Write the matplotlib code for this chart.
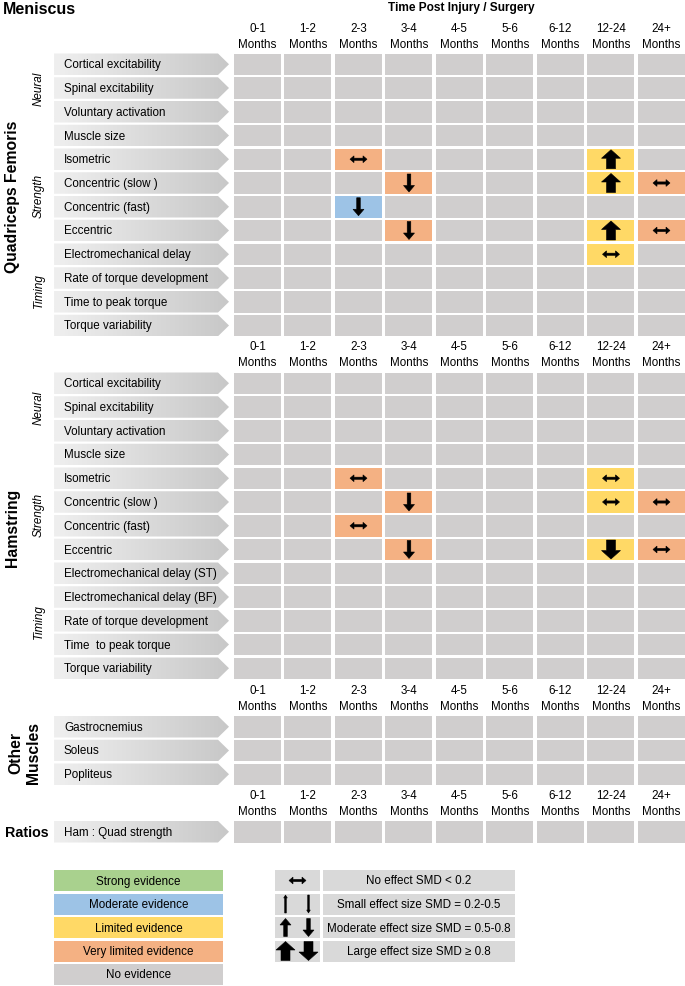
import matplotlib
matplotlib.use("Agg")
import matplotlib.pyplot as plt
import numpy as np
from matplotlib.patches import Rectangle, Polygon
from matplotlib.colors import LinearSegmentedColormap

plt.rcParams['font.family'] = ['Liberation Sans', 'DejaVu Sans']

# ---- data ----
columns = ["0-1", "1-2", "2-3", "3-4", "4-5", "5-6", "6-12", "12-24", "24+"]

quad_rows = ["Cortical excitability", "Spinal excitability", "Voluntary activation",
             "Muscle size", "Isometric", "Concentric (slow )", "Concentric (fast)",
             "Eccentric", "Electromechanical delay", "Rate of torque development",
             "Time to peak torque", "Torque variability"]
quad_groups = [("Neural", 0, 2), ("Strength", 4, 7), ("Timing", 8, 11)]
quad_findings = [
    ("Isometric", "2-3", "very_limited", "none"),
    ("Isometric", "12-24", "limited", "large_up"),
    ("Concentric (slow )", "3-4", "very_limited", "moderate_down"),
    ("Concentric (slow )", "12-24", "limited", "large_up"),
    ("Concentric (slow )", "24+", "very_limited", "none"),
    ("Concentric (fast)", "2-3", "moderate", "moderate_down"),
    ("Eccentric", "3-4", "very_limited", "moderate_down"),
    ("Eccentric", "12-24", "limited", "large_up"),
    ("Eccentric", "24+", "very_limited", "none"),
    ("Electromechanical delay", "12-24", "limited", "none"),
]

ham_rows = ["Cortical excitability", "Spinal excitability", "Voluntary activation",
            "Muscle size", "Isometric", "Concentric (slow )", "Concentric (fast)",
            "Eccentric", "Electromechanical delay (ST)", "Electromechanical delay (BF)",
            "Rate of torque development", "Time  to peak torque", "Torque variability"]
ham_groups = [("Neural", 0, 2), ("Strength", 4, 7), ("Timing", 8, 12)]
ham_findings = [
    ("Isometric", "2-3", "very_limited", "none"),
    ("Isometric", "12-24", "limited", "none"),
    ("Concentric (slow )", "3-4", "very_limited", "moderate_down"),
    ("Concentric (slow )", "12-24", "limited", "none"),
    ("Concentric (slow )", "24+", "very_limited", "none"),
    ("Concentric (fast)", "2-3", "very_limited", "none"),
    ("Eccentric", "3-4", "very_limited", "moderate_down"),
    ("Eccentric", "12-24", "limited", "large_down"),
    ("Eccentric", "24+", "very_limited", "none"),
]

other_rows = ["Gastrocnemius", "Soleus", "Popliteus"]
ratio_rows = ["Ham : Quad strength"]

evidence_labels = ["Strong evidence", "Moderate evidence", "Limited evidence",
                   "Very limited evidence", "No evidence"]
evidence_keys = ["strong", "moderate", "limited", "very_limited", "none"]
effect_labels = ["No effect SMD < 0.2", "Small effect size SMD = 0.2-0.5",
                 "Moderate effect size SMD = 0.5-0.8", "Large effect size SMD \u2265 0.8"]

# ---- styles ----
evidence_colors = {"strong": "#a9d18e", "moderate": "#9dc3e6", "limited": "#ffd966",
                   "very_limited": "#f4b183", "none": "#d0cece"}
legend_grey = "#d9d9d9"

col_x0, col_pitch, cell_w = 234, 50.5, 47
row_pitch, cell_h = 23.75, 21.5
lab_x0, lab_x1, lab_tip = 54, 218, 229
fs = 8.4

fig = plt.figure(figsize=(6.85, 9.87), dpi=100)
ax = fig.add_axes([0, 0, 1, 1])
ax.set_xlim(0, 685)
ax.set_ylim(987, 0)
ax.axis('off')

grad_cmap = LinearSegmentedColormap.from_list("lab", ["#efefef", "#c8c8c8"])
grad = np.linspace(0, 1, 64).reshape(1, -1)


def arrow_shape(kind, cx, cy):
    if kind == "none":
        L, hl, hh, sh = 8.5, 4.0, 3.4, 1.1
        pts = [(-L, 0), (-L + hl, -hh), (-L + hl, -sh), (L - hl, -sh), (L - hl, -hh),
               (L, 0), (L - hl, hh), (L - hl, sh), (-L + hl, sh), (-L + hl, hh)]
    else:
        size, direction = kind.split("_")
        H, hl, hw, sw = {"small": (9, 3, 1.8, 0.8),
                         "moderate": (9, 6.5, 5.5, 1.8),
                         "large": (9.5, 8.5, 9.5, 4.5)}[size]
        pts = [(0, -H), (hw, -H + hl), (sw, -H + hl), (sw, H), (-sw, H),
               (-sw, -H + hl), (-hw, -H + hl)]
        if direction == "down":
            pts = [(x, -y) for x, y in pts]
    return Polygon([(cx + x, cy + y) for x, y in pts], closed=True,
                   facecolor="black", edgecolor="black", lw=0.4)


def header(top):
    for j, c in enumerate(columns):
        xc = col_x0 + j * col_pitch + cell_w / 2
        ax.text(xc, top - 26, c, ha='center', va='center', fontsize=fs)
        ax.text(xc, top - 10, "Months", ha='center', va='center', fontsize=fs)


def section(top, rows, findings, groups):
    header(top)
    lookup = {(r, c): (e, a) for r, c, e, a in findings}
    for i, r in enumerate(rows):
        y = top + i * row_pitch
        poly = Polygon([(lab_x0, y), (lab_x1, y), (lab_tip, y + cell_h / 2),
                        (lab_x1, y + cell_h), (lab_x0, y + cell_h)], closed=True,
                       facecolor='none', edgecolor='none')
        ax.add_patch(poly)
        im = ax.imshow(grad, cmap=grad_cmap, aspect='auto',
                       extent=[lab_x0, lab_tip, y + cell_h, y], zorder=1)
        im.set_clip_path(poly)
        ax.text(lab_x0 + 10, y + cell_h / 2, r, ha='left', va='center', fontsize=fs, zorder=3)
        for j, c in enumerate(columns):
            ev, eff = lookup.get((r, c), ("none", None))
            x = col_x0 + j * col_pitch
            ax.add_patch(Rectangle((x, y), cell_w, cell_h, facecolor=evidence_colors[ev],
                                   edgecolor='none', zorder=1))
            if eff:
                p = arrow_shape(eff, x + cell_w / 2, y + cell_h / 2)
                p.set_zorder(3)
                ax.add_patch(p)
    for name, a, b in groups:
        yc = top + (a + b + 1) / 2 * row_pitch - (row_pitch - cell_h) / 2
        ax.text(39, yc, name, rotation=90, style='italic', ha='center', va='center',
                fontsize=fs)
    return top + len(rows) * row_pitch


ax.text(3, 10, "Meniscus", fontsize=11.5, fontweight='bold', ha='left', va='center')
ax.text(col_x0 + (len(columns) * col_pitch) / 2, 8, "Time Post Injury / Surgery",
        fontsize=8.6, fontweight='bold', ha='center', va='center')

q_top = 54.5
q_end = section(q_top, quad_rows, quad_findings, quad_groups)
ax.text(13, (q_top + q_end) / 2, "Quadriceps Femoris", rotation=90, fontsize=11.3,
        fontweight='bold', ha='center', va='center')

h_top = 373.5
h_end = section(h_top, ham_rows, ham_findings, ham_groups)
ax.text(13, (h_top + h_end) / 2, "Hamstring", rotation=90, fontsize=11.3,
        fontweight='bold', ha='center', va='center')

o_top = 717
o_end = section(o_top, other_rows, [], [])
ax.text(25, (o_top + o_end) / 2, "Other\nMuscles", rotation=90, fontsize=11.3,
        fontweight='bold', ha='center', va='center', multialignment='center',
        linespacing=1.2)

r_top = 822
section(r_top, ratio_rows, [], [])
ax.text(5, r_top + cell_h / 2, "Ratios", fontsize=10.3, fontweight='bold',
        ha='left', va='center')

# ---- legend ----
leg_top, leg_pitch, leg_h = 871, 23.5, 21
for i, (lab, key) in enumerate(zip(evidence_labels, evidence_keys)):
    y = leg_top + i * leg_pitch
    ax.add_patch(Rectangle((54, y), 169, leg_h, facecolor=evidence_colors[key], edgecolor='none'))
    ax.text(54 + 169 / 2, y + leg_h / 2, lab, ha='center', va='center', fontsize=fs)

effect_symbols = [["none"], ["small_up", "small_down"], ["moderate_up", "moderate_down"],
                  ["large_up", "large_down"]]
for i, (lab, syms) in enumerate(zip(effect_labels, effect_symbols)):
    y = leg_top + i * leg_pitch
    ax.add_patch(Rectangle((275, y), 45, leg_h, facecolor=legend_grey, edgecolor='none'))
    ax.add_patch(Rectangle((323, y), 192, leg_h, facecolor=legend_grey, edgecolor='none'))
    ax.text(323 + 192 / 2, y + leg_h / 2, lab, ha='center', va='center', fontsize=fs)
    if len(syms) == 1:
        ax.add_patch(arrow_shape(syms[0], 297.5, y + leg_h / 2))
    else:
        ax.add_patch(arrow_shape(syms[0], 285.5, y + leg_h / 2))
        ax.add_patch(arrow_shape(syms[1], 308.5, y + leg_h / 2))

fig.savefig("out.png", dpi=100)
